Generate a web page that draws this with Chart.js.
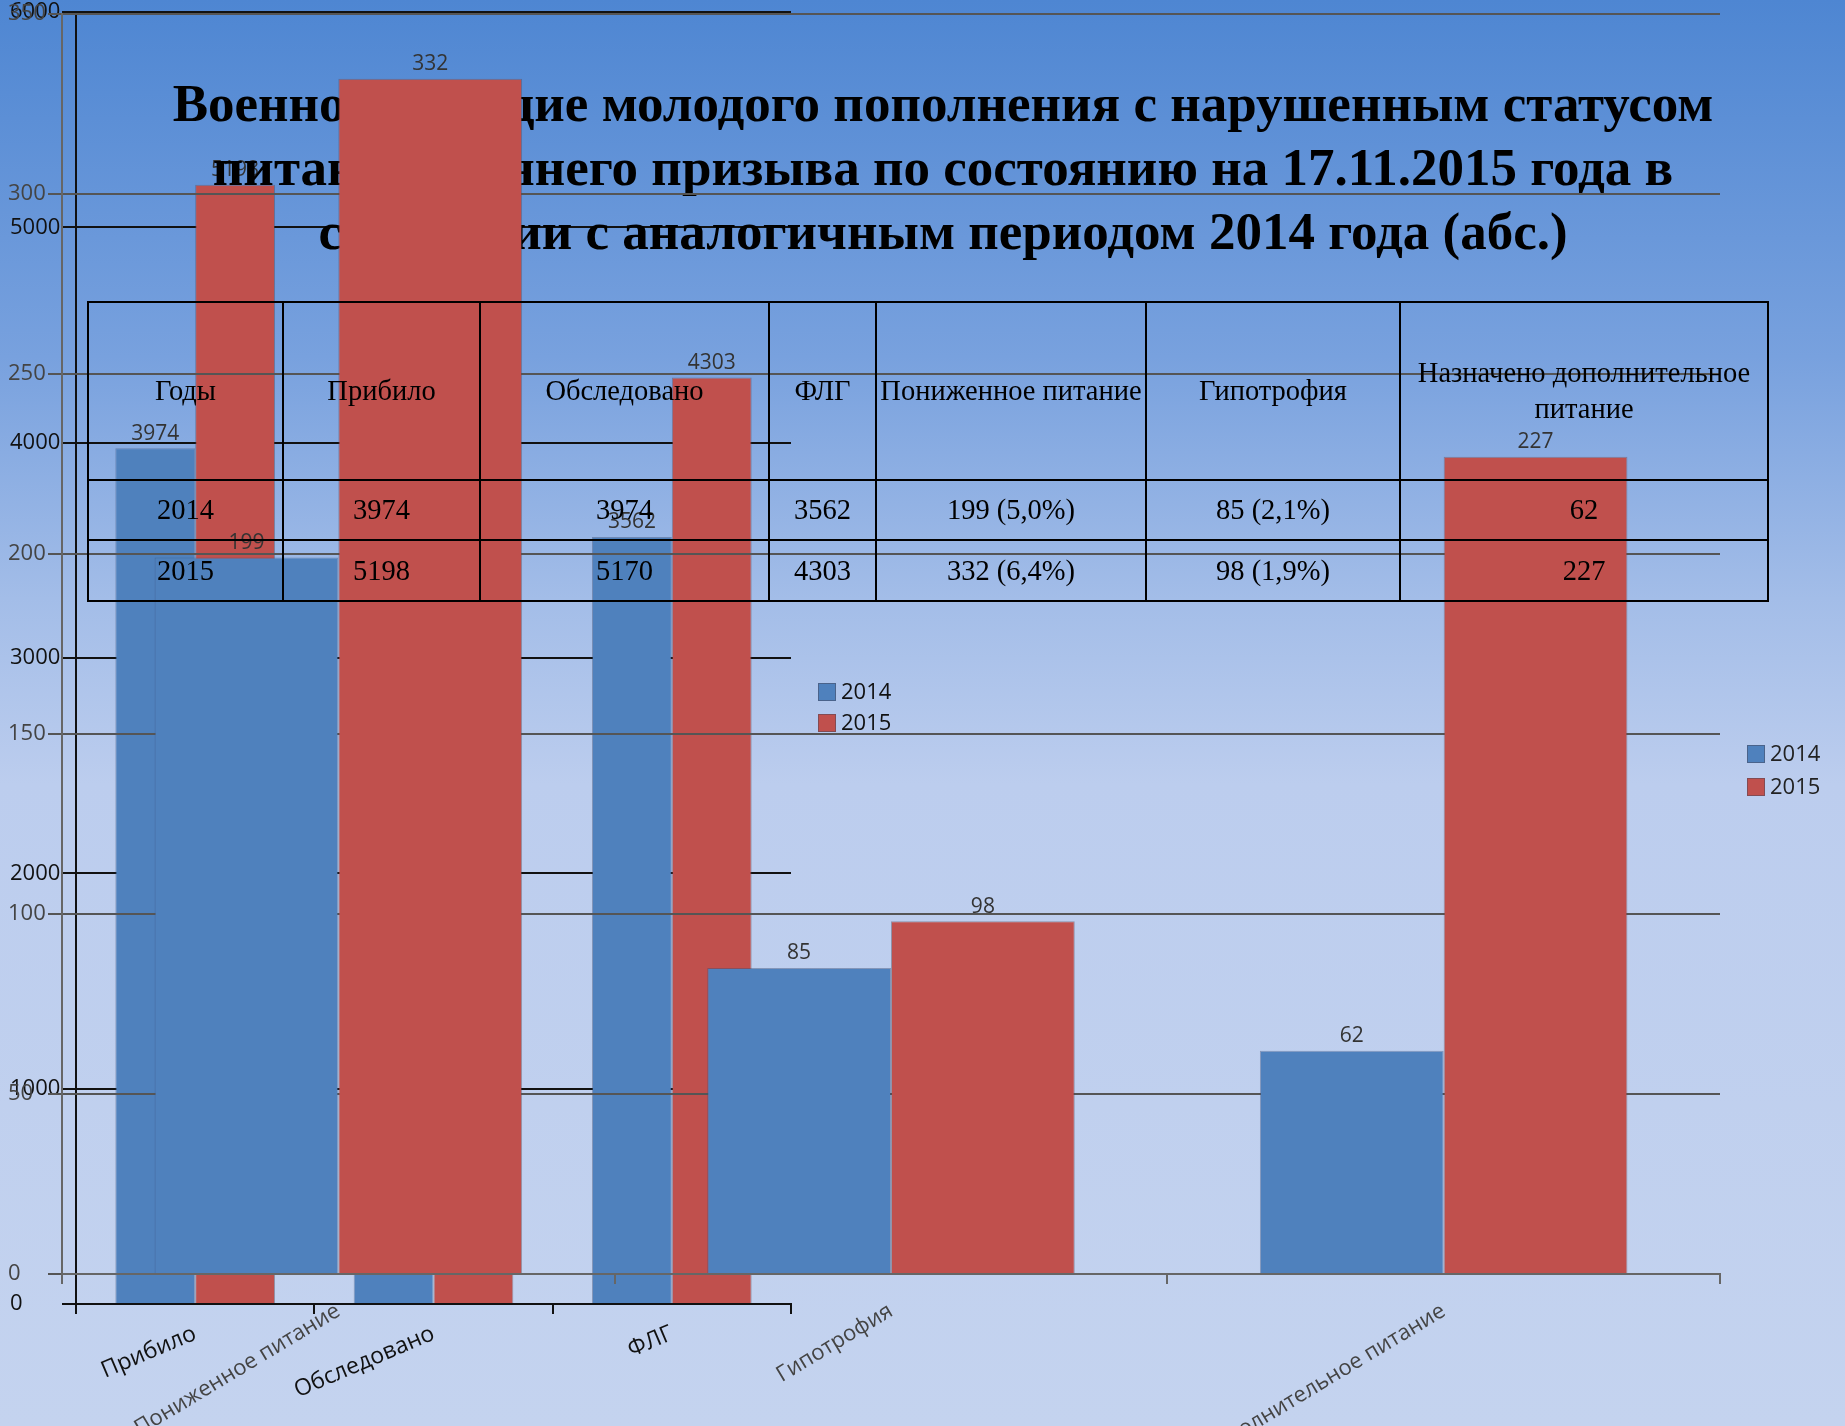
<!DOCTYPE html>
<html lang="ru">
<head>
<meta charset="utf-8">
<title>Военнослужащие молодого пополнения</title>
<script src="https://cdn.jsdelivr.net/npm/chart.js@4.4.1/dist/chart.umd.min.js"></script>
<style>
  html, body { margin: 0; padding: 0; }
  body {
    width: 1845px; height: 1426px; overflow: hidden; position: relative;
    background: linear-gradient(to bottom, #4e86d2 0%, #78a1de 25%, #a3bde8 42%, #bccdee 55%, #c4d3ef 100%);
  }
  #chartA { position: absolute; left: 0; top: 0; z-index: 1; }
  #chartB { position: absolute; left: 0; top: 0; z-index: 3; filter: blur(0.6px); }
  #title {
    position: absolute; left: 0; top: 71px; width: 1886px; z-index: 2;
    text-align: center; font-family: "Liberation Serif", serif; font-weight: bold;
    font-size: 53px; line-height: 64px; color: #000;
  }
  #table {
    position: absolute; left: 87px; top: 301px; z-index: 4;
    border-collapse: collapse; table-layout: fixed; width: 1680px;
    font-family: "Liberation Serif", serif; font-size: 28.5px; color: #000;
  }
  #table td { border: 2px solid #000; padding: 0; text-align: center; vertical-align: middle; line-height: 36px; }
</style>
</head>
<body>
<canvas id="chartA" width="910" height="1426"></canvas>
<div id="title">Военнослужащие молодого пополнения с нарушенным статусом<br>питания осеннего призыва по состоянию на 17.11.2015 года в<br>сравнении с аналогичным периодом 2014 года (абс.)</div>
<canvas id="chartB" width="1845" height="1426"></canvas>
<table id="table"></table>

<script>
// left chart (absolute numbers)
const catsA = ['Прибило', 'Обследовано', 'ФЛГ'];
const valsA2014 = [3974, 3974, 3562];
const valsA2015 = [5198, 5170, 4303];
const ticksA = [0, 1000, 2000, 3000, 4000, 5000, 6000];

// right chart (small numbers)
const catsB = ['Пониженное питание', 'Гипотрофия', 'Назначено дополнительное питание'];
const valsB2014 = [199, 85, 62];
const valsB2015 = [332, 98, 227];
const ticksB = [0, 50, 100, 150, 200, 250, 300, 350];

// table
const years = ['2014', '2015'];
const tableHead = ['Годы', 'Прибило', 'Обследовано', 'ФЛГ', 'Пониженное питание', 'Гипотрофия', 'Назначено дополнительное питание'];
const pctReduced = ['5,0%', '6,4%'];
const pctHypo = ['2,1%', '1,9%'];
const colWidths = [195, 197, 289, 107, 270, 254, 368];
const rowHeights = [178, 60, 61];

const BLUE = '#4f81bd';
const RED = '#c0504d';
const SANS = '"Open Sans", "Noto Sans", sans-serif';

// value labels above bars
const barLabels = {
    id: 'barLabels',
    afterDatasetsDraw(chart, args, opts) {
        const ctx = chart.ctx;
        ctx.save();
        ctx.font = opts.font;
        ctx.fillStyle = opts.color;
        ctx.textAlign = 'center';
        ctx.textBaseline = 'bottom';
        chart.data.datasets.forEach((ds, i) => {
            chart.getDatasetMeta(i).data.forEach((bar, j) => {
                ctx.fillText(ds.data[j], bar.x, bar.y - opts.offset);
            });
        });
        ctx.restore();
    }
};

// small legend placed where the original had it
const boxLegend = {
    id: 'boxLegend',
    afterDraw(chart, args, opts) {
        const ctx = chart.ctx;
        ctx.save();
        ctx.font = opts.font;
        ctx.textBaseline = 'middle';
        ctx.textAlign = 'left';
        chart.data.datasets.forEach((ds, i) => {
            const y = opts.y + i * opts.gap;
            ctx.fillStyle = ds.backgroundColor;
            ctx.fillRect(opts.x, y - opts.box / 2, opts.box, opts.box);
            ctx.strokeStyle = 'rgba(70,70,90,0.5)';
            ctx.lineWidth = 1;
            ctx.strokeRect(opts.x + 0.5, y - opts.box / 2 + 0.5, opts.box - 1, opts.box - 1);
            ctx.fillStyle = opts.color;
            ctx.fillText(ds.label, opts.x + opts.box + 5, y + 1);
        });
        ctx.restore();
    }
};

function makeChart(id, cfg) {
    return new Chart(document.getElementById(id), {
        type: 'bar',
        data: {
            labels: cfg.cats,
            datasets: [
                { label: '2014', data: cfg.v2014, backgroundColor: BLUE, borderColor: 'rgba(60,80,120,0.45)', borderWidth: 1 },
                { label: '2015', data: cfg.v2015, backgroundColor: RED, borderColor: 'rgba(90,70,80,0.45)', borderWidth: 1 }
            ]
        },
        plugins: [barLabels, boxLegend],
        options: {
            responsive: false,
            animation: false,
            categoryPercentage: cfg.catPct,
            barPercentage: 1,
            layout: { padding: cfg.padding },
            plugins: {
                legend: { display: false },
                tooltip: { enabled: false },
                barLabels: { font: '21px ' + SANS, color: cfg.labelColor, offset: 4 },
                boxLegend: cfg.legend
            },
            scales: {
                x: {
                    grid: { offset: true, drawOnChartArea: false, color: cfg.axisColor, lineWidth: 2, tickLength: 10 },
                    border: { color: cfg.axisColor, width: 2 },
                    ticks: {
                        color: cfg.tickColor, font: { family: SANS, size: cfg.xFont },
                        minRotation: cfg.rot, maxRotation: cfg.rot, autoSkip: false, padding: cfg.xPad
                    },
                    afterFit(s) { s.height = cfg.xHeight; s.paddingLeft = 0; s.paddingRight = 0; }
                },
                y: {
                    min: 0, max: cfg.ticks[cfg.ticks.length - 1],
                    afterBuildTicks(s) { s.ticks = cfg.ticks.map(v => ({ value: v })); },
                    grid: { color: cfg.gridColor, lineWidth: 2, tickLength: 14 },
                    border: { color: cfg.axisColor, width: 2 },
                    ticks: {
                        color: cfg.tickColor, crossAlign: 'far', font: { family: SANS, size: 22 },
                        callback: v => String(v)
                    },
                    afterFit(s) { s.width = cfg.yWidth; s.paddingTop = 0; s.paddingBottom = 0; }
                }
            }
        }
    });
}

makeChart('chartA', {
    cats: catsA, v2014: valsA2014, v2015: valsA2015, ticks: ticksA,
    catPct: 0.67, rot: 23, xFont: 23, xPad: 6, xHeight: 122, yWidth: 66,
    padding: { left: 10, top: 12, right: 119, bottom: 0 },
    axisColor: '#111', gridColor: '#111', tickColor: '#111', labelColor: '#333',
    legend: { x: 818, y: 692, gap: 31, box: 18, font: '22px ' + SANS, color: '#111' }
});

makeChart('chartB', {
    cats: catsB, v2014: valsB2014, v2015: valsB2015, ticks: ticksB,
    catPct: 0.665, rot: 31, xFont: 22, xPad: 14, xHeight: 152, yWidth: 54,
    padding: { left: 8, top: 14, right: 125, bottom: 0 },
    axisColor: '#666', gridColor: '#555', tickColor: '#444', labelColor: '#333',
    legend: { x: 1747, y: 754, gap: 33, box: 18, font: '22px ' + SANS, color: '#222' }
});

// data table
const rows = [
    [valsA2014[0], valsA2014[1], valsA2014[2], valsB2014[0], valsB2014[1], valsB2014[2]],
    [valsA2015[0], valsA2015[1], valsA2015[2], valsB2015[0], valsB2015[1], valsB2015[2]]
];
let html = '<colgroup>' + colWidths.map(w => `<col style="width:${w}px">`).join('') + '</colgroup>';
html += `<tr style="height:${rowHeights[0]}px">` + tableHead.map((h, i) =>
    i === tableHead.length - 1 ? '<td>Назначено дополнительное<br>питание</td>' : `<td>${h}</td>`).join('') + '</tr>';
rows.forEach((r, k) => {
    html += `<tr style="height:${rowHeights[k + 1]}px"><td>${years[k]}</td>` +
        `<td>${r[0]}</td><td>${r[1]}</td><td>${r[2]}</td>` +
        `<td>${r[3]} (${pctReduced[k]})</td><td>${r[4]} (${pctHypo[k]})</td><td>${r[5]}</td></tr>`;
});
document.getElementById('table').innerHTML = html;
</script>
</body>
</html>
